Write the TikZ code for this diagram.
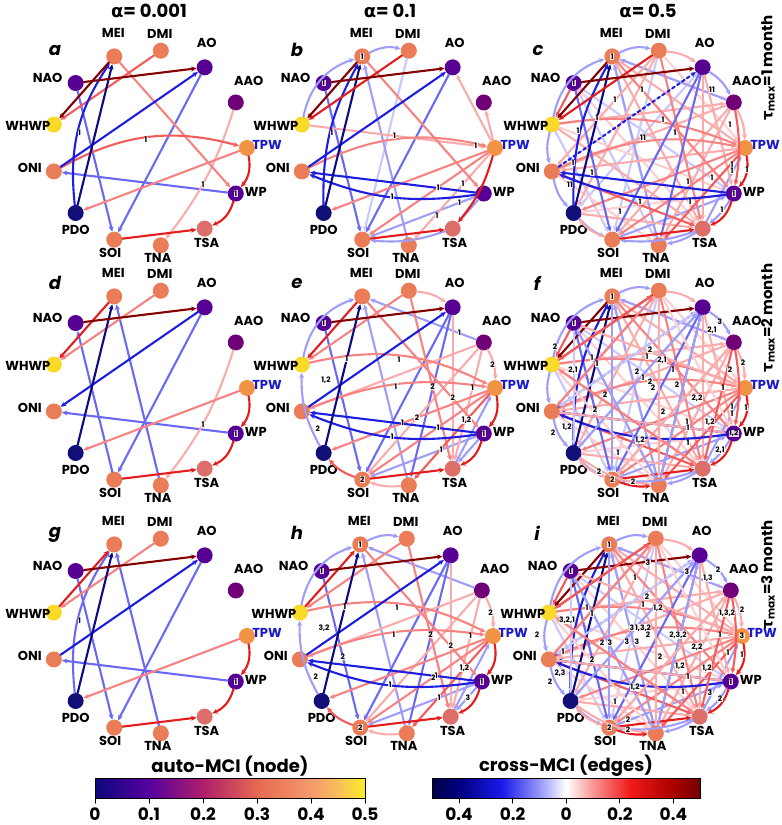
\documentclass[tikz,border=0pt]{standalone}
\usepackage{fontspec}
\setmainfont{Poppins}
\newfontfamily\grk{DejaVu Sans}
\usetikzlibrary{arrows.meta,calc}

% edge colours (cross-MCI)
\definecolor{dr}{RGB}{130,0,0}
\definecolor{rd}{RGB}{228,28,28}
\definecolor{co}{RGB}{244,92,92}
\definecolor{sa}{RGB}{247,130,130}
\definecolor{pk}{RGB}{250,172,172}
\definecolor{lp}{RGB}{252,208,208}
\definecolor{nv}{RGB}{10,10,130}
\definecolor{bl}{RGB}{30,30,225}
\definecolor{pw}{RGB}{105,105,245}
\definecolor{lb}{RGB}{158,158,250}
\definecolor{vb}{RGB}{200,200,252}
% node colours (auto-MCI)
\definecolor{nor}{RGB}{234,124,88}
\definecolor{nts}{RGB}{222,110,105}
\definecolor{ntp}{RGB}{241,148,70}
\definecolor{npu}{RGB}{88,0,150}
\definecolor{naa}{RGB}{112,0,120}
\definecolor{npd}{RGB}{18,16,120}
\definecolor{nye}{RGB}{250,218,40}
\definecolor{tpwc}{RGB}{25,25,200}
% colour bars
\definecolor{p0}{RGB}{12,8,125}
\definecolor{p1}{RGB}{85,2,160}
\definecolor{p2}{RGB}{175,30,105}
\definecolor{p3}{RGB}{228,105,82}
\definecolor{p4}{RGB}{245,155,108}
\definecolor{p45}{RGB}{248,190,90}
\definecolor{p5}{RGB}{250,236,40}
\definecolor{m0}{RGB}{0,0,75}
\definecolor{m1}{RGB}{0,0,125}
\definecolor{m2}{RGB}{25,25,235}
\definecolor{m3}{RGB}{150,150,250}
\definecolor{m5}{RGB}{250,150,150}
\definecolor{m6}{RGB}{240,25,25}
\definecolor{m7}{RGB}{170,0,0}
\definecolor{m8}{RGB}{115,0,0}
\pgfdeclarehorizontalshading{automci}{50bp}{color(0bp)=(p0); color(10bp)=(p1); color(20bp)=(p2); color(30bp)=(p3); color(40bp)=(p4); color(45bp)=(p45); color(50bp)=(p5)}
\pgfdeclarehorizontalshading{crossmci}{50bp}{color(0bp)=(m0); color(5bp)=(m1); color(13bp)=(m2); color(20bp)=(m3); color(25bp)=(white); color(30bp)=(m5); color(37bp)=(m6); color(45bp)=(m7); color(50bp)=(m8)}

\tikzset{
  nd/.style={circle,fill=#1,minimum size=16pt,inner sep=0pt},
  lbl/.style={font=\fontsize{13}{13}\selectfont\bfseries,inner sep=0pt,text=#1},
  lbl/.default=black,
  ed/.style={draw=#1,line width=2.1pt,-{Stealth[length=5.5pt,width=5pt]}},
  lag/.style={fill=white,fill opacity=0.85,text opacity=1,font=\fontsize{7.5}{7.5}\selectfont\bfseries,inner sep=0.5pt},
  ttl/.style={font=\fontsize{18}{18}\selectfont\bfseries,inner sep=0pt},
  pnl/.style={font=\fontsize{18}{18}\selectfont\bfseries\itshape,inner sep=0pt},
  tau/.style={font=\fontsize{15}{15}\selectfont\bfseries,rotate=90,inner sep=0pt},
  tck/.style={font=\fontsize{17}{17}\selectfont\bfseries,inner sep=0pt},
}

% the 13 indices of one network, on a circle
\newcommand\climnet[3]{%
  \foreach \n/\k/\nc/\lx/\ly/\tc in {TPW/0/ntp/20/-3/tpwc,AAO/1/naa/13/-22/black,AO/2/npu/2/-24/black,DMI/3/nor/-1/-17/black,MEI/4/nor/-1/-23/black,NAO/5/npu/-28/-5/black,WHWP/6/nye/-26/1/black,ONI/7/nor/-24/-4/black,PDO/8/npd/0/17/black,SOI/9/nor/-4/13/black,TNA/10/nor/-3/13/black,TSA/11/nts/2/14/black,WP/12/npu/20/-2/black}{
    \node[nd=\nc] (#1-\n) at ($(#2,#3)+(-\k*360/13:98)$) {};
    \node[lbl=\tc] (#1-\n-t) at ($(#1-\n)+(\lx,\ly)$) {\n};
  }}
\newcommand\links[2]{\foreach \sn/\tn/\ec/\eb in {#2}
  \draw[ed=\ec] (#1-\sn) to[bend left=\eb] (#1-\tn);}
\newcommand\lags[2]{\foreach \sn/\tn/\ep/\ea/\el in {#2}
  \node[lag] (#1-\sn-\tn-lag) at ($(#1-\sn)!\ep!\ea:(#1-\tn)$) {\el};}
\newcommand\lagat[4]{\foreach \dx/\dy/\el [count=\i] in {#4}
  \node[lag] (#1-lag\i) at ($(#2,#3)+(\dx,\dy)$) {\el};}
\newcommand\selflag[2]{\foreach \sn/\el in {#2}
  \node[lag] (#1-\sn-self) at (#1-\sn) {\el};}
% links shared by the alpha=0.5 networks
\newcommand\denselinks[1]{\links{#1}{DMI/SOI/vb/0,NAO/WP/vb/0,WHWP/SOI/vb/0,MEI/TNA/vb/0,AO/PDO/vb/0,NAO/TNA/vb/0,DMI/TPW/lp/0,ONI/TNA/lp/0,NAO/TSA/lp/0,PDO/WP/lp/0,MEI/AAO/lp/0,WHWP/WP/lp/0,MEI/DMI/lb/20,TNA/MEI/lb/0,WHWP/ONI/lb/-15,ONI/PDO/lb/-15,PDO/SOI/lb/-12,AO/AAO/lb/15,WP/TSA/lb/10,TSA/TNA/lb/10,SOI/WP/lb/0,TSA/SOI/lb/12,WHWP/MEI/lb/30,AAO/MEI/lb/0,TSA/TPW/lb/0,DMI/AO/pk/15,DMI/PDO/pk/0,DMI/ONI/pk/0,AO/TSA/pk/0,AO/WP/pk/0,AAO/ONI/pk/0,AAO/TNA/pk/0,AAO/TPW/pk/12,TPW/ONI/pk/0,WHWP/TSA/pk/0,PDO/TSA/pk/0,SOI/PDO/pk/15,MEI/TSA/pk/0,WHWP/AAO/pk/0,MEI/TPW/pk/0,AAO/SOI/pk/0,MEI/WP/sa/0,TPW/PDO/sa/0,TPW/SOI/sa/0,WHWP/TPW/sa/15,ONI/TPW/sa/18,DMI/TSA/sa/0,TPW/TNA/co/0,ONI/TSA/co/0,AAO/WP/co/10,NAO/WHWP/co/0,AO/SOI/pw/0,NAO/SOI/pw/0,AO/TNA/pw/0,PDO/MEI/bl/15,WP/ONI/bl/0,WP/ONI/bl/15,PDO/MEI/nv/0,DMI/WHWP/rd/0,SOI/TSA/rd/0,TPW/WP/rd/25,WP/TSA/rd/25,NAO/AO/dr/0,MEI/WHWP/dr/0}
  \draw[ed=bl,dashed] (#1-ONI) -- (#1-AO);}
\newcommand\denseextra[1]{\links{#1}{NAO/PDO/vb/0,AO/ONI/vb/0,DMI/WP/lp/0,TNA/WHWP/lp/0,TNA/AO/lb/0,PDO/AO/lb/0,TNA/NAO/lb/0,MEI/SOI/lb/0,NAO/TPW/pk/0,DMI/TNA/pk/0,ONI/WP/pk/0,SOI/AAO/pk/0,PDO/TNA/pk/-15,TSA/WHWP/sa/0,ONI/DMI/sa/0,WHWP/DMI/co/0,AAO/TSA/co/0,SOI/TNA/rd/-12}}

\begin{document}
\begin{tikzpicture}[x=1pt,y=-1pt,line cap=round]
\useasboundingbox (0,0) rectangle (782,825);

% column heads and row tags
\node[ttl] (h1) at (149,11) {{\grk\bfseries α}= 0.001};
\node[ttl] (h2) at (390,11) {{\grk\bfseries α}= 0.1};
\node[ttl] (h3) at (648,11) {{\grk\bfseries α}= 0.5};
\node[tau] (tau1) at (768,68) {{\grk\bfseries τ}\textsubscript{max}=1 month};
\node[tau] (tau2) at (768,318) {{\grk\bfseries τ}\textsubscript{max}=2 month};
\node[tau] (tau3) at (768,575) {{\grk\bfseries τ}\textsubscript{max}=3 month};
\foreach \p/\x/\y in {a/55/50,b/297/50,c/538/50,d/55/283,e/297/283,f/537/283,g/55/535,h/297/533,i/537/533}
  \node[pnl] (\p-tag) at (\x,\y) {\p};

% a
\climnet{a}{149}{148}
\links{a}{NAO/SOI/pw/0,AO/SOI/pw/0,WP/ONI/pw/0,AAO/TNA/pk/10,MEI/WP/sa/0,TPW/PDO/sa/0,DMI/WHWP/co/0,ONI/TPW/co/22,PDO/MEI/bl/20,ONI/AO/bl/0,PDO/MEI/nv/0,TPW/WP/rd/25,WP/TSA/rd/25,SOI/TSA/rd/0,NAO/AO/dr/0,MEI/WHWP/dr/0}
\lags{a}{PDO/MEI/0.5/11/1,ONI/TPW/0.5/12/1,AAO/TNA/0.55/6/1}
\selflag{a}{WP/1}

% b
\climnet{b}{397}{148}
\links{b}{DMI/SOI/vb/0,MEI/DMI/lb/20,WHWP/MEI/lb/30,TNA/MEI/lb/0,WP/TSA/lb/0,TSA/SOI/lb/12,WP/SOI/lb/0,NAO/SOI/pw/0,AO/SOI/pw/0,WHWP/TPW/pk/0,TPW/AO/pk/0,TPW/AAO/pk/0,TPW/TNA/pk/0,MEI/WP/sa/0,TPW/PDO/sa/0,TPW/SOI/sa/0,ONI/TPW/sa/20,PDO/MEI/bl/15,ONI/AO/bl/0,WP/ONI/bl/0,WP/ONI/bl/15,PDO/MEI/nv/0,DMI/WHWP/rd/0,SOI/TSA/rd/0,TPW/TSA/rd/12,NAO/AO/dr/0,MEI/WHWP/dr/0}
\lags{b}{PDO/MEI/0.5/8/1,WHWP/TPW/0.48/0/1,TPW/WHWP/0.1/0/1,TPW/TNA/0.37/0/1,WP/SOI/0.2/0/1,WP/ONI/0.25/0/1,WP/ONI/0.5/9/1,WP/SOI/0.4/5/1}
\selflag{b}{NAO/1,MEI/1}

% c
\climnet{c}{647}{148}
\denselinks{c}
\lagat{c}{647}{148}{-5/-58/1,-32/-48/1,65/-58/11,-50/-30/1,16/-28/1,28/-15/1,-4/-10/11,83/-23/1,-69/-17/1,-74/15/1,-55/25/1,-77/37/11,85/17/1,85/23/1,100/22/1,41/34/1,65/30/1,43/54/1,-7/54/1,-27/64/1,75/62/1}
\selflag{c}{MEI/1,NAO/1,WP/1}

% d
\climnet{d}{149}{388}
\links{d}{SOI/NAO/pw/0,AO/SOI/pw/0,TNA/MEI/pw/0,WP/ONI/pw/0,AAO/TNA/pk/10,DMI/WHWP/sa/0,TPW/PDO/sa/0,AO/ONI/bl/0,PDO/MEI/nv/0,MEI/WHWP/rd/0,TPW/WP/rd/25,WP/TSA/rd/25,SOI/TSA/rd/0,NAO/AO/dr/0}
\lags{d}{AAO/TNA/0.55/6/1}
\selflag{d}{WP/1}

% e
\climnet{e}{397}{388}
\links{e}{WHWP/MEI/lb/30,AAO/MEI/lb/0,TNA/MEI/lb/0,PDO/WHWP/lb/15,WP/SOI/lb/0,TSA/TPW/lb/0,WP/TSA/lb/0,AO/SOI/pw/0,NAO/SOI/pw/0,AO/TNA/pw/0,DMI/AO/pk/15,AAO/ONI/pk/0,AAO/TPW/pk/15,AO/TSA/pk/0,AAO/TSA/pk/0,AAO/SOI/pk/0,TNA/SOI/pk/12,DMI/WHWP/sa/0,DMI/TSA/sa/0,WHWP/TPW/sa/20,ONI/TPW/sa/15,TPW/PDO/sa/0,TPW/SOI/sa/0,MEI/WP/sa/0,SOI/PDO/co/15,TPW/TNA/co/0,ONI/AO/bl/0,WP/ONI/bl/0,WP/ONI/bl/15,PDO/MEI/nv/0,MEI/WHWP/rd/0,SOI/TSA/rd/0,TPW/WP/rd/25,WP/TSA/rd/25,NAO/AO/dr/0}
\lags{e}{AAO/MEI/0.2/0/1,PDO/MEI/0.6/0/1,PDO/MEI/0.45/12/{1,2},WHWP/TPW/0.5/10/1,ONI/TPW/0.5/8/1,AO/TSA/0.56/0/2,DMI/TSA/0.54/0/2,AAO/TPW/0.5/8/2,AAO/TSA/0.36/0/1,TPW/PDO/0.54/0/1,AAO/SOI/0.55/0/2,WP/ONI/0.25/0/1,WP/ONI/0.5/9/1,WP/SOI/0.35/0/1,TPW/TNA/0.33/0/{1,2},PDO/WHWP/0.27/0/2}
\selflag{e}{NAO/1,SOI/2,WP/1}

% f
\climnet{f}{647}{388}
\denselinks{f}
\denseextra{f}
\lagat{f}{647}{388}{73/-66/3,65/-58/{2,1},3/-38/2,0/-31/1,15/-28/{2,1},-55/-30/1,-50/-24/1,-92/-41/2,-74/-18/{2,1},26/-18/1,-10/-16/2,-4/-10/1,3/-6/2,6/0/2,30/-3/2,83/-18/2,96/-25/2,76/0/1,50/10/{2,2},-42/7/2,-52/22/2,16/24/2,85/19/1,85/26/1,99/20/1,40/34/1,41/40/1,63/34/{1,2},-80/39/{1,2},-94/45/2,-7/52/{1,2},41/55/1,73/62/{2,1},-29/65/1,-48/84/2,-14/94/2}
\selflag{f}{MEI/1,NAO/1,WP/{1,2},SOI/2}

% g
\climnet{g}{149}{636}
\links{g}{NAO/SOI/pw/0,AO/SOI/pw/0,TNA/MEI/pw/0,WP/ONI/pw/0,PDO/MEI/pw/20,DMI/WHWP/sa/0,TPW/PDO/sa/0,ONI/AO/bl/0,PDO/MEI/nv/0,WHWP/MEI/rd/0,TPW/WP/rd/25,WP/TSA/rd/25,SOI/TSA/rd/0,NAO/AO/dr/0}
\lags{g}{PDO/MEI/0.5/11/1}
\selflag{g}{WP/1}

% h
\climnet{h}{395}{636}
\links{h}{MEI/DMI/lb/20,WHWP/MEI/lb/30,AAO/MEI/lb/0,TNA/MEI/lb/0,PDO/WHWP/lb/15,WP/SOI/lb/0,TSA/TPW/lb/0,WP/TSA/lb/0,AO/SOI/pw/0,NAO/SOI/pw/0,AO/TNA/pw/0,AAO/ONI/pk/0,AAO/TPW/pk/15,AO/TSA/pk/0,AAO/TSA/pk/0,AAO/SOI/pk/0,TNA/SOI/pk/12,DMI/WHWP/sa/0,DMI/TSA/sa/0,WHWP/TPW/sa/20,ONI/TPW/sa/15,TPW/PDO/sa/0,TPW/SOI/sa/0,MEI/WP/sa/0,SOI/PDO/co/15,TPW/TNA/co/0,ONI/AO/bl/0,WP/ONI/bl/0,WP/ONI/bl/15,PDO/MEI/nv/0,WHWP/MEI/rd/0,SOI/TSA/rd/0,TPW/WP/rd/25,WP/TSA/rd/25,NAO/AO/dr/0}
\lags{h}{PDO/MEI/0.6/0/1,PDO/MEI/0.45/12/{3,2},WHWP/TPW/0.5/10/1,ONI/TPW/0.5/8/1,DMI/TSA/0.54/0/2,AO/TSA/0.56/0/2,AAO/TSA/0.36/0/1,TPW/TNA/0.33/0/{1,2},AAO/TPW/0.5/8/2,WP/ONI/0.25/0/1,WP/ONI/0.5/9/1,WP/SOI/0.35/0/1,PDO/WHWP/0.27/0/2,NAO/SOI/0.55/0/2,WP/TSA/0.45/0/3,TPW/SOI/0.45/0/2}
\selflag{h}{NAO/1,MEI/1,SOI/2,WP/1}

% i
\climnet{i}{644}{636}
\denselinks{i}
\denseextra{i}
\lagat{i}{644}{636}{4/-73/3,43/-64/3,64/-58/{1,3},74/-66/2,-9/-58/1,3/-39/2,-1/-31/1,14/-28/{1,2},-57/-28/1,-52/-22/1,83/-23/{1,3,2},98/-26/2,-77/-16/{3,2,1},-12/-8/3,-1/-8/{1,3,2},4/-1/2,34/-1/{2,3,2},76/-1/1,-107/-1/2,-42/7/2,-34/7/3,-17/6/3,-7/6/3,53/11/{2,2},84/17/1,98/19/1,-81/16/1,-52/24/2,16/21/2,36/30/{1,2},44/41/1,63/32/{1,2},-84/37/{2,3},-94/46/2,-9/51/{1,2},39/56/1,66/57/3,76/63/2,-29/66/1,-16/84/2,-16/94/2}
\selflag{i}{MEI/1,NAO/1,TPW/3,WP/1,SOI/2}

% colour bars
\node[ttl] (cb1-t) at (230,766) {auto-MCI (node)};
\shade[shading=automci] (95,778) rectangle (365,798);
\draw[line width=1pt] (95,778) rectangle (365,798);
\foreach \v [count=\i from 0] in {0,0.1,0.2,0.3,0.4,0.5}{
  \draw[line width=1pt] (95+54*\i,798) -- (95+54*\i,803);
  \node[tck] (cb1-\i) at (95+54*\i,814) {\v};
}
\node[ttl] (cb2-t) at (566,766) {cross-MCI (edges)};
\shade[shading=crossmci] (432,778) rectangle (700,798);
\draw[line width=1pt] (432,778) rectangle (700,798);
\foreach \v [count=\i from 0] in {0.4,0.2,0,0.2,0.4}{
  \draw[line width=1pt] (459+53.6*\i,798) -- (459+53.6*\i,803);
  \node[tck] (cb2-\i) at (459+53.6*\i,814) {\v};
}
\end{tikzpicture}
\end{document}
